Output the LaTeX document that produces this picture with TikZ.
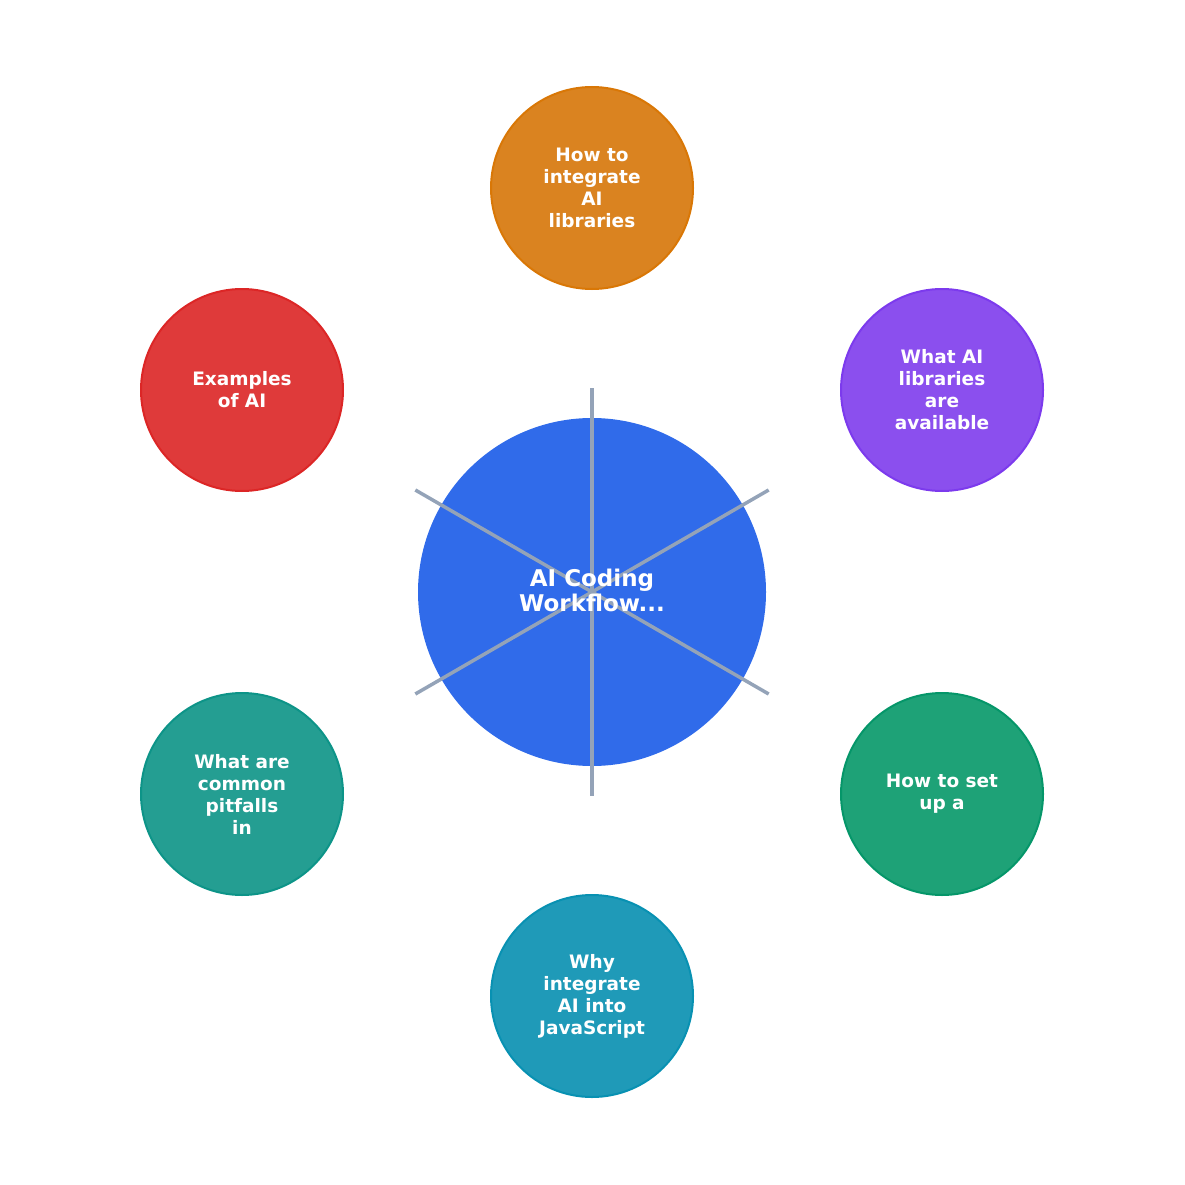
\documentclass[tikz,border=0pt]{standalone}
\usepackage{fontspec}
\usetikzlibrary{calc}
\setmainfont{DejaVu Sans}
\definecolor{cblue}{HTML}{306BEA}
\definecolor{corange}{HTML}{DA8320}
\definecolor{corangeb}{HTML}{D97706}
\definecolor{cpurple}{HTML}{8B4FEE}
\definecolor{cpurpleb}{HTML}{7C3AED}
\definecolor{cred}{HTML}{DF3A3A}
\definecolor{credb}{HTML}{DC2626}
\definecolor{cteal}{HTML}{249E92}
\definecolor{ctealb}{HTML}{0D9488}
\definecolor{cgreen}{HTML}{1EA277}
\definecolor{cgreenb}{HTML}{059669}
\definecolor{ccyan}{HTML}{1F9AB8}
\definecolor{ccyanb}{HTML}{0891B2}
\definecolor{cline}{HTML}{94A3B8}
\tikzset{
  topic/.style={circle, minimum size=202pt, inner sep=0pt, line width=2pt, text=white,
    font=\fontsize{18.5}{22}\selectfont\bfseries, align=center},
  hub/.style={circle, minimum size=348pt, inner sep=0pt, fill=cblue},
  hublabel/.style={text=white, font=\fontsize{23}{25.5}\selectfont\bfseries, align=center, inner sep=0pt},
  spoke/.style={draw=cline, line width=3.5pt}
}
\begin{document}
\begin{tikzpicture}[x=1pt,y=-1pt]
\useasboundingbox (0,0) rectangle (1185,1185);
\node[hub] (hub) at (592,592) {};
\foreach \a/\n in {90/s1,30/s2,-30/s3,-90/s4,210/s5,150/s6}{
  \coordinate (\n) at ($(592,592)+(\a:204pt)$);
}
\node[topic, fill=corange, draw=corangeb] (t1) at (592,188) {How to\\integrate\\AI\\libraries};
\node[topic, fill=cpurple, draw=cpurpleb] (t2) at (942,390) {What AI\\libraries\\are\\available};
\node[topic, fill=cgreen, draw=cgreenb] (t3) at (942,794) {How to set\\up a};
\node[topic, fill=ccyan, draw=ccyanb] (t4) at (592,996) {Why\\integrate\\AI into\\JavaScript};
\node[topic, fill=cteal, draw=ctealb] (t5) at (242,794) {What are\\common\\pitfalls\\in};
\node[topic, fill=cred, draw=credb] (t6) at (242,390) {Examples\\of AI};
\foreach \n in {s1,s2,s3,s4,s5,s6}{
  \draw[spoke] (hub.center) -- (\n);
}
\node[hublabel] (hl) at ([yshift=1.5pt]hub.center) {AI Coding\\Workflow...};
\end{tikzpicture}
\end{document}
